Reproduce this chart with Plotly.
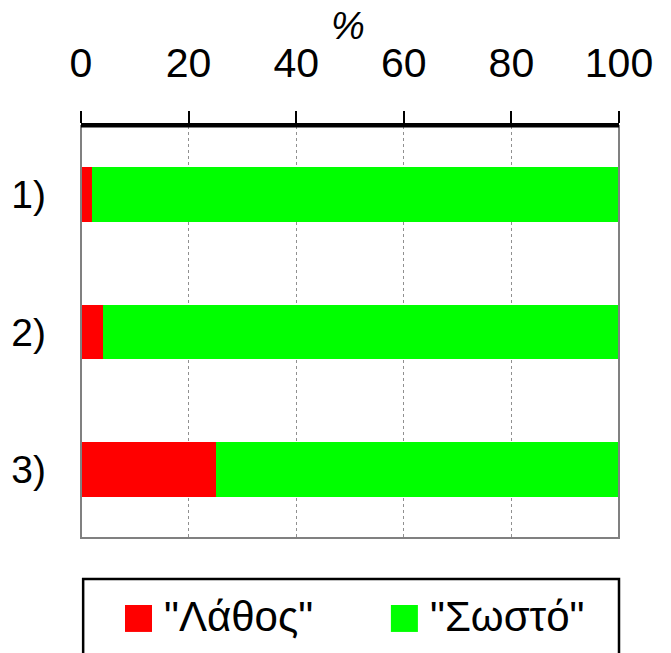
import plotly.graph_objects as go

categories = ["1)", "2)", "3)"]
series_names = ['"Λάθος"', '"Σωστό"']
wrong_values = [2, 4, 25]
correct_values = [98, 96, 75]
series_colors = ["#FF0000", "#00FF00"]
x_ticks = [0, 20, 40, 60, 80, 100]
axis_title = "%"

FONT = "Liberation Sans, Arial, sans-serif"

fig = go.Figure()
for name, vals, col in zip(series_names, [wrong_values, correct_values], series_colors):
    fig.add_trace(go.Bar(
        y=categories, x=vals, name=name, orientation="h",
        marker=dict(color=col, line=dict(width=0)), width=0.4,
        showlegend=False,
    ))

fig.update_layout(
    width=671, height=653,
    margin=dict(l=81, r=52, t=126, b=115),
    barmode="stack",
    plot_bgcolor="white", paper_bgcolor="white",
    font=dict(family=FONT, size=41, color="black"),
    xaxis=dict(
        side="top", range=[0, 100], tickvals=x_ticks,
        ticktext=[str(v) for v in x_ticks],
        showgrid=True, gridcolor="#909090", griddash="dot", gridwidth=1,
        showline=True, linecolor="black", linewidth=3,
        ticks="outside", ticklen=12, tickwidth=2, tickcolor="black",
        ticklabelstandoff=18, automargin=False,
        zeroline=False,
    ),
    yaxis=dict(
        categoryorder="array", categoryarray=categories,
        range=[2.5, -0.5], showgrid=False, zeroline=False,
        showline=False, ticks="", ticklabelstandoff=34, automargin=False,
        tickfont=dict(size=39),
    ),
)

# axis title "%"
fig.add_annotation(xref="paper", yref="paper", x=0.497, y=1.2427, text=axis_title,
                   showarrow=False, xanchor="center", yanchor="middle",
                   font=dict(size=38, family=FONT, style="italic", color="black"))

# plot frame (gray)
fig.add_shape(type="rect", xref="paper", yref="paper", x0=0, x1=1, y0=0, y1=1,
              line=dict(color="#808080", width=2), layer="above")
# redraw top black axis line over the frame
fig.add_shape(type="line", xref="paper", yref="paper", x0=0, x1=1, y0=1, y1=1,
              line=dict(color="black", width=3), layer="above")

# legend box
fig.add_shape(type="rect", xref="paper", yref="paper", x0=0.004, x1=1.0,
              y0=-0.3, y1=-0.0995, line=dict(color="black", width=2.5), fillcolor="white")
sq_x = [0.0818, 0.576]
txt_x = [0.150, 0.645]
for name, col, sx, tx in zip(series_names, series_colors, sq_x, txt_x):
    fig.add_shape(type="rect", xref="paper", yref="paper",
                  x0=sx, x1=sx + 0.0502, y0=-0.228, y1=-0.1626,
                  line=dict(width=0), fillcolor=col)
    fig.add_annotation(xref="paper", yref="paper", x=tx, y=-0.19,
                       text=name, showarrow=False, xanchor="left", yanchor="middle",
                       font=dict(size=42, family=FONT, color="black"))

fig.write_html("out.html", config={"displayModeBar": False},
               post_script="document.body.style.margin='0';document.body.style.overflow='hidden';")
